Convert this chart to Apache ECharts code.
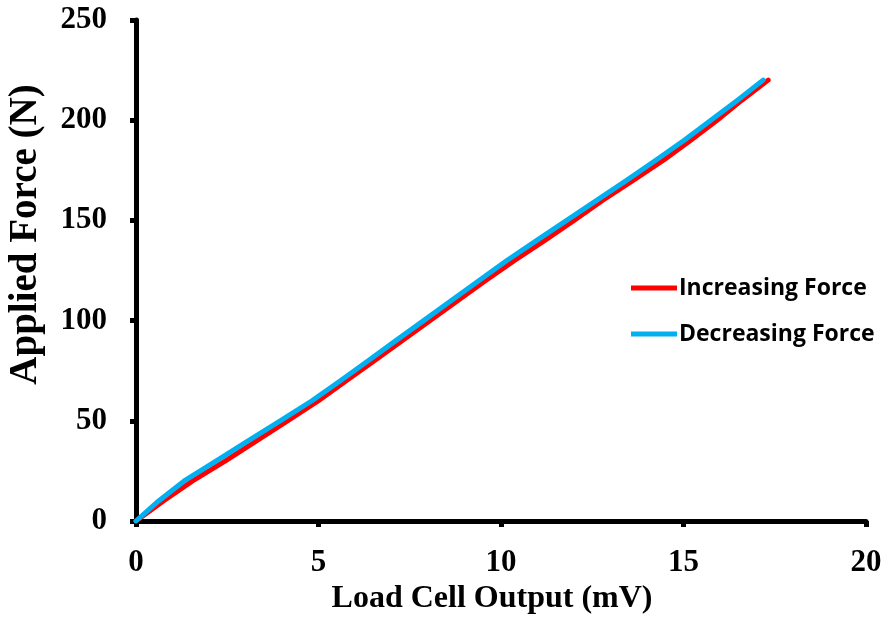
<!DOCTYPE html>
<html>
<head>
<meta charset="utf-8">
<script src="https://cdn.jsdelivr.net/npm/echarts@6/dist/echarts.min.js"></script>
<style>html,body{margin:0;padding:0;background:#fff}#c{width:888px;height:618px}</style>
</head>
<body>
<div id="c"></div>
<script>
// Applied force levels (N)
var forceLevels = [0,10,20,30,40,50,60,70,80,90,100,110,120,130,140,150,160,170,180,190,200,210,220];
// Load cell output (mV) for increasing force
var increasingOutput = [0,0.75,1.55,2.45,3.3,4.15,5.0,5.76,6.53,7.29,8.05,8.82,9.58,10.37,11.2,12.0,12.78,13.62,14.45,15.2,15.92,16.6,17.32];
// Load cell output (mV) for decreasing force
var decreasingOutput = [0,0.62,1.32,2.2,3.07,3.95,4.82,5.6,6.36,7.12,7.88,8.64,9.4,10.16,10.98,11.8,12.62,13.44,14.24,15.02,15.75,16.48,17.18];
var seriesNames = ['Increasing Force','Decreasing Force'];

function pairs(xs, ys){ return xs.map(function(x,i){ return [x, ys[i]]; }); }

var chart = echarts.init(document.getElementById('c'));
var axisFont = {fontFamily:'Liberation Serif', fontWeight:'bold', fontSize:31, color:'#000'};
chart.setOption({
  animation:false,
  grid:{left:136, right:22, top:20, bottom:97, containLabel:false, outerBoundsMode:'none'},
  legend:{
    orient:'vertical', left:626, top:270,
    icon:'rect', itemWidth:46, itemHeight:5, itemGap:20,
    textStyle:{fontFamily:'Open Sans', fontWeight:'bold', fontSize:23, color:'#000', lineHeight:26, padding:[0,0,0,-3]},
    data:seriesNames
  },
  xAxis:{
    type:'value', min:0, max:20, interval:5,
    name:'Load Cell Output (mV)', nameLocation:'middle', nameGap:61,
    nameTextStyle:Object.assign({}, axisFont, {fontSize:32, padding:[0,18,0,0]}),
    axisLine:{show:true, lineStyle:{color:'#000', width:5}},
    axisTick:{show:true, length:6, lineStyle:{color:'#000', width:5}},
    axisLabel:Object.assign({margin:26}, axisFont),
    splitLine:{show:false}
  },
  yAxis:{
    type:'value', min:0, max:250, interval:50,
    name:'Applied Force (N)', nameLocation:'middle', nameGap:91, nameRotate:90,
    nameTextStyle:Object.assign({}, axisFont, {fontSize:39, padding:[0,0,0,72]}),
    axisLine:{show:true, lineStyle:{color:'#000', width:5}},
    axisTick:{show:true, length:6, lineStyle:{color:'#000', width:5}},
    axisLabel:Object.assign({margin:29}, axisFont),
    splitLine:{show:false}
  },
  series:[
    {name:seriesNames[0], type:'line', symbol:'none', data:pairs(increasingOutput, forceLevels),
     itemStyle:{color:'#FF0000'}, lineStyle:{color:'#FF0000', width:5, cap:'round', join:'round'}},
    {name:seriesNames[1], type:'line', symbol:'none', data:pairs(decreasingOutput, forceLevels),
     itemStyle:{color:'#00B0F0'}, lineStyle:{color:'#00B0F0', width:5, cap:'round', join:'round'}}
  ]
});
</script>
</body>
</html>
